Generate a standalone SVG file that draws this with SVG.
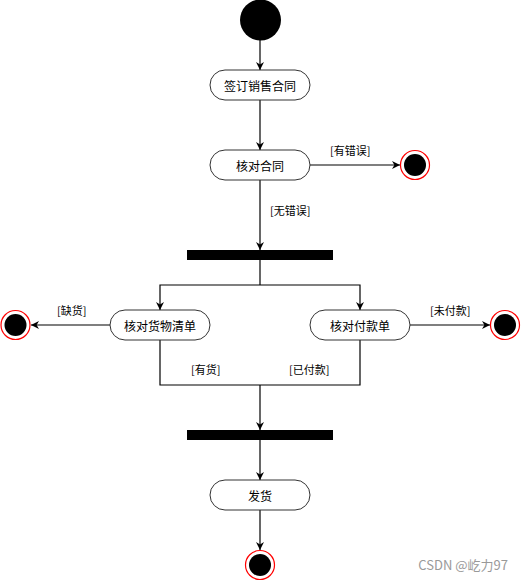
<svg xmlns="http://www.w3.org/2000/svg" width="522" height="582" viewBox="0 0 522 582">
<defs>
<marker id="ah" viewBox="0 0 10 10" refX="10" refY="5" markerWidth="8" markerHeight="8" markerUnits="userSpaceOnUse" orient="auto">
<path d="M0,0 L10,5 L0,10 L3,5 Z" fill="#000"/>
</marker>
<style>
.n rect{fill:#fff;stroke:#333;stroke-width:1}
.t{font-family:"Noto Sans CJK SC","Liberation Sans",sans-serif;font-size:12px;fill:#000;text-anchor:middle;dominant-baseline:central}
.l{font-family:"Noto Sans CJK SC","Liberation Sans",sans-serif;font-size:11px;fill:#000}
.c line,.c path{stroke:#000;stroke-width:1.2;fill:none}
.a{marker-end:url(#ah)}
.eo{fill:#fff;stroke:#f00;stroke-width:1.2}
.ei{fill:#000}
.bar{fill:#000}
</style>
</defs>
<rect width="522" height="582" fill="#fff"/>
<g id="connectors" class="c">
<line class="a" x1="260" y1="40" x2="260" y2="70"/>
<line class="a" x1="260" y1="100" x2="260" y2="150"/>
<line class="a" x1="310" y1="165" x2="400" y2="165"/>
<line class="a" x1="260" y1="180" x2="260" y2="250"/>
<path d="M260,260 V285"/>
<path class="a" d="M260,285 H160 V310"/>
<path class="a" d="M260,285 H360 V310"/>
<line class="a" x1="110" y1="325" x2="31" y2="325"/>
<line class="a" x1="410" y1="325" x2="490" y2="325"/>
<path d="M160,340 V385 H360 V340"/>
<line class="a" x1="260" y1="385" x2="260" y2="430"/>
<line class="a" x1="260" y1="440" x2="260" y2="480"/>
<line class="a" x1="260" y1="510" x2="260" y2="550"/>
</g>
<g id="labels">
<text class="l" x="330" y="155">[有错误]</text>
<text class="l" x="270" y="215">[无错误]</text>
<text class="l" x="57" y="315">[缺货]</text>
<text class="l" x="430" y="315">[未付款]</text>
<text class="l" x="191" y="374">[有货]</text>
<text class="l" x="289" y="374">[已付款]</text>
</g>
<g id="start"><circle cx="260.5" cy="20" r="20.5" fill="#000"/></g>
<g id="n1" class="n"><rect x="210" y="70" width="100" height="30" rx="15"/><text class="t" x="260" y="85">签订销售合同</text></g>
<g id="n2" class="n"><rect x="210" y="150" width="100" height="30" rx="15"/><text class="t" x="260" y="165">核对合同</text></g>
<g id="end1"><circle class="eo" cx="415" cy="165" r="14.5"/><circle class="ei" cx="415" cy="165" r="11"/></g>
<g id="fork"><rect class="bar" x="187" y="250" width="146" height="10"/></g>
<g id="n3" class="n"><rect x="110" y="310" width="100" height="30" rx="15"/><text class="t" x="160" y="325">核对货物清单</text></g>
<g id="n4" class="n"><rect x="310" y="310" width="100" height="30" rx="15"/><text class="t" x="360" y="325">核对付款单</text></g>
<g id="end2"><circle class="eo" cx="15.5" cy="325" r="14.5"/><circle class="ei" cx="15.5" cy="325" r="11"/></g>
<g id="end3"><circle class="eo" cx="505" cy="325" r="14.5"/><circle class="ei" cx="505" cy="325" r="11"/></g>
<g id="join"><rect class="bar" x="187" y="430" width="146" height="10"/></g>
<g id="n5" class="n"><rect x="210" y="480" width="100" height="30" rx="15"/><text class="t" x="260" y="495">发货</text></g>
<g id="end4"><circle class="eo" cx="260" cy="565" r="14.5"/><circle class="ei" cx="260" cy="565" r="11"/></g>
<text x="508" y="570" text-anchor="end" font-family="'Noto Sans CJK SC','Liberation Sans',sans-serif" font-size="13" fill="#999">CSDN @屹力97</text>
</svg>
